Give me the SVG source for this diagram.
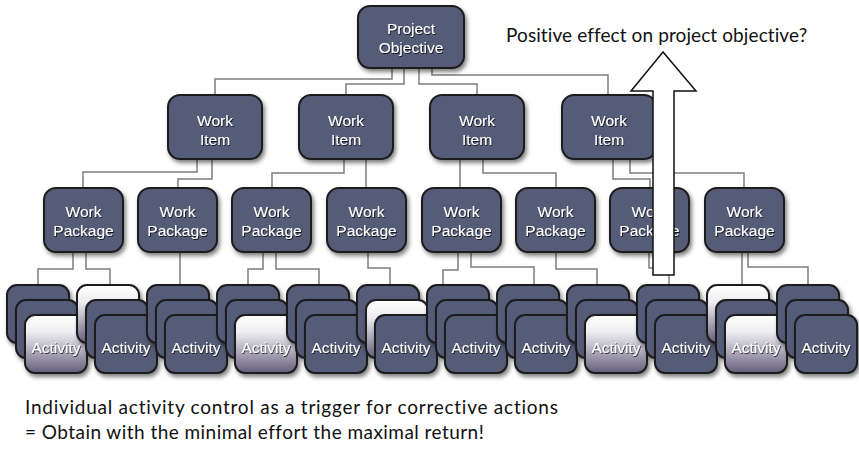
<svg xmlns="http://www.w3.org/2000/svg" width="859" height="451" viewBox="0 0 859 451">
<defs>
<filter id="sh" x="-20%" y="-20%" width="150%" height="150%">
<feDropShadow dx="2" dy="3" stdDeviation="2" flood-color="#000" flood-opacity="0.5"/>
</filter>
<filter id="ts" x="-10%" y="-30%" width="130%" height="170%">
<feDropShadow dx="0.8" dy="1" stdDeviation="0.7" flood-color="#000" flood-opacity="0.75"/>
</filter>
<linearGradient id="wg" x1="0" y1="0" x2="0" y2="1">
<stop offset="0" stop-color="#ffffff"/>
<stop offset="0.3" stop-color="#eeedf1"/>
<stop offset="0.65" stop-color="#aaa6b7"/>
<stop offset="1" stop-color="#655f7c"/>
</linearGradient>
</defs>
<style>
.n{fill:#545b77;stroke:#1c1c1e;stroke-width:2;filter:url(#sh)}
.w{fill:url(#wg);stroke:#1c1c1e;stroke-width:2;filter:url(#sh)}
.t{font-family:"Liberation Sans",Arial,sans-serif;font-size:15.5px;fill:#ffffff;text-anchor:middle;filter:url(#ts)}
.a{font-family:"Liberation Sans",Arial,sans-serif;font-size:15.5px;fill:#ffffff;text-anchor:middle;filter:url(#ts)}
.c{fill:none;stroke:#7e7e7e;stroke-width:1.5}
.lbl{font-family:Lato,"Open Sans",sans-serif;font-size:19px;fill:#111}
</style>
<rect width="859" height="451" fill="#ffffff"/>
<g id="connectors">
<path class="c" d="M392,68V79H215V95M404,68V84H346V95M419,68V84H477V95M432,68V75H608V95"/>
<path class="c" d="M197,159V172H83V188M212,159V179H178V188M344,159V173H272V188M366,159V188M460,159V188M483,159V173H556V188M613,159V179H650V188M630,159V173H744V188"/>
<path class="c" d="M73,252V269H38V285M86,252V269H110V285M180,252V285M263,252V269H248V285M276,252V269H319V285M368,252V268H390V285M458,252V270H443V285M471,252V267H534V285M556,252V269H597V285M649,252V268H669V285M742,252V285M748,252V267H808V285"/>
</g>
<g id="project-objective"><rect class="n" x="358" y="6" width="106" height="62" rx="12"/><text class="t" x="411" y="34">Project</text><text class="t" x="411" y="53">Objective</text></g>
<g id="wi1"><rect class="n" x="168" y="95" width="94" height="64" rx="12"/><text class="t" x="215" y="126">Work</text><text class="t" x="215" y="145">Item</text></g>
<g id="wi2"><rect class="n" x="299" y="95" width="94" height="64" rx="12"/><text class="t" x="346" y="126">Work</text><text class="t" x="346" y="145">Item</text></g>
<g id="wi3"><rect class="n" x="430" y="95" width="94" height="64" rx="12"/><text class="t" x="477" y="126">Work</text><text class="t" x="477" y="145">Item</text></g>
<g id="wi4"><rect class="n" x="562" y="95" width="94" height="64" rx="12"/><text class="t" x="609" y="126">Work</text><text class="t" x="609" y="145">Item</text></g>
<g id="wp1"><rect class="n" x="44" y="188" width="79" height="64" rx="12"/><text class="t" x="83.5" y="217">Work</text><text class="t" x="83.5" y="236">Package</text></g>
<g id="wp2"><rect class="n" x="138" y="188" width="79" height="64" rx="12"/><text class="t" x="177.5" y="217">Work</text><text class="t" x="177.5" y="236">Package</text></g>
<g id="wp3"><rect class="n" x="232" y="188" width="79" height="64" rx="12"/><text class="t" x="271.5" y="217">Work</text><text class="t" x="271.5" y="236">Package</text></g>
<g id="wp4"><rect class="n" x="327" y="188" width="79" height="64" rx="12"/><text class="t" x="366.5" y="217">Work</text><text class="t" x="366.5" y="236">Package</text></g>
<g id="wp5"><rect class="n" x="422" y="188" width="79" height="64" rx="12"/><text class="t" x="461.5" y="217">Work</text><text class="t" x="461.5" y="236">Package</text></g>
<g id="wp6"><rect class="n" x="516" y="188" width="79" height="64" rx="12"/><text class="t" x="555.5" y="217">Work</text><text class="t" x="555.5" y="236">Package</text></g>
<g id="wp7"><rect class="n" x="610" y="188" width="79" height="64" rx="12"/><text class="t" x="649.5" y="217">Work</text><text class="t" x="649.5" y="236">Package</text></g>
<g id="wp8"><rect class="n" x="705" y="188" width="79" height="64" rx="12"/><text class="t" x="744.5" y="217">Work</text><text class="t" x="744.5" y="236">Package</text></g>
<g id="act1"><rect class="n" x="7" y="285" width="62" height="58" rx="10"/><rect class="n" x="16" y="300" width="62" height="58" rx="10"/><rect class="w" x="25" y="315" width="62" height="58" rx="10"/><text class="a" x="56" y="353">Activity</text></g>
<g id="act2"><rect class="w" x="77" y="285" width="62" height="58" rx="10"/><rect class="n" x="86" y="300" width="62" height="58" rx="10"/><rect class="n" x="95" y="315" width="62" height="58" rx="10"/><text class="a" x="126" y="353">Activity</text></g>
<g id="act3"><rect class="n" x="147" y="285" width="62" height="58" rx="10"/><rect class="n" x="156" y="300" width="62" height="58" rx="10"/><rect class="n" x="165" y="315" width="62" height="58" rx="10"/><text class="a" x="196" y="353">Activity</text></g>
<g id="act4"><rect class="n" x="217" y="285" width="62" height="58" rx="10"/><rect class="n" x="226" y="300" width="62" height="58" rx="10"/><rect class="w" x="235" y="315" width="62" height="58" rx="10"/><text class="a" x="266" y="353">Activity</text></g>
<g id="act5"><rect class="n" x="287" y="285" width="62" height="58" rx="10"/><rect class="n" x="296" y="300" width="62" height="58" rx="10"/><rect class="n" x="305" y="315" width="62" height="58" rx="10"/><text class="a" x="336" y="353">Activity</text></g>
<g id="act6"><rect class="n" x="357" y="285" width="62" height="58" rx="10"/><rect class="w" x="366" y="300" width="62" height="58" rx="10"/><rect class="n" x="375" y="315" width="62" height="58" rx="10"/><text class="a" x="406" y="353">Activity</text></g>
<g id="act7"><rect class="n" x="427" y="285" width="62" height="58" rx="10"/><rect class="n" x="436" y="300" width="62" height="58" rx="10"/><rect class="n" x="445" y="315" width="62" height="58" rx="10"/><text class="a" x="476" y="353">Activity</text></g>
<g id="act8"><rect class="n" x="497" y="285" width="62" height="58" rx="10"/><rect class="n" x="506" y="300" width="62" height="58" rx="10"/><rect class="n" x="515" y="315" width="62" height="58" rx="10"/><text class="a" x="546" y="353">Activity</text></g>
<g id="act9"><rect class="n" x="567" y="285" width="62" height="58" rx="10"/><rect class="n" x="576" y="300" width="62" height="58" rx="10"/><rect class="w" x="585" y="315" width="62" height="58" rx="10"/><text class="a" x="616" y="353">Activity</text></g>
<g id="act10"><rect class="n" x="637" y="285" width="62" height="58" rx="10"/><rect class="n" x="646" y="300" width="62" height="58" rx="10"/><rect class="n" x="655" y="315" width="62" height="58" rx="10"/><text class="a" x="686" y="353">Activity</text></g>
<g id="act11"><rect class="w" x="707" y="285" width="62" height="58" rx="10"/><rect class="n" x="716" y="300" width="62" height="58" rx="10"/><rect class="w" x="725" y="315" width="62" height="58" rx="10"/><text class="a" x="756" y="353">Activity</text></g>
<g id="act12"><rect class="n" x="777" y="285" width="62" height="58" rx="10"/><rect class="n" x="786" y="300" width="62" height="58" rx="10"/><rect class="n" x="795" y="315" width="62" height="58" rx="10"/><text class="a" x="826" y="353">Activity</text></g>
<g id="arrow"><polygon points="663,52 631,91 653,91 653,275 674,275 674,91 696,91" fill="#ffffff" stroke="#111" stroke-width="1.5" stroke-linejoin="miter"/></g>
<g id="labels">
<text class="lbl" x="506" y="42" letter-spacing="0.1">Positive effect on project objective?</text>
<text class="lbl" x="25" y="414" letter-spacing="0.75">Individual activity control as a trigger for corrective actions</text>
<text class="lbl" x="25" y="439" letter-spacing="0.45">= Obtain with the minimal effort the maximal return!</text>
</g>
</svg>
